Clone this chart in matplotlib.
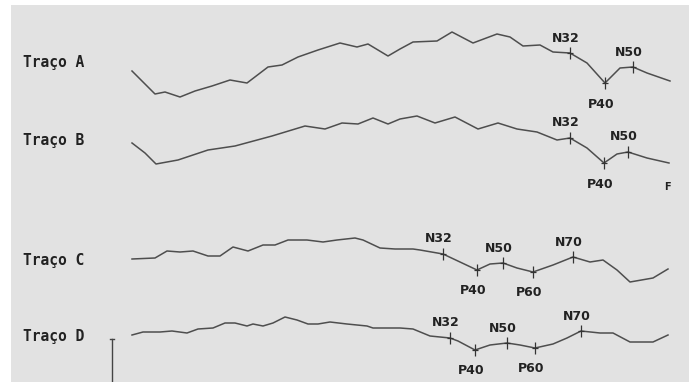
import matplotlib.pyplot as plt
from matplotlib.patches import Rectangle

# traces (horizontal position, vertical position; y grows downward)
x_a = [132, 155, 165, 180, 195, 212, 230, 247, 268, 282, 298, 318, 340, 357, 368, 388, 400,
       413, 437, 452, 473, 497, 510, 523, 540, 553, 570, 587, 605, 620, 633, 647, 670]
y_a = [71, 94, 92, 97, 91, 86, 80, 83, 67, 65, 57, 50, 43, 47, 44, 56, 49,
       42, 41, 32, 43, 34, 37, 46, 45, 52, 53, 63, 83, 68, 67, 73, 81]

x_b = [132, 145, 156, 178, 208, 235, 272, 305, 325, 342, 358, 373, 388, 400, 417, 435, 455,
       478, 498, 517, 537, 557, 570, 587, 604, 617, 628, 647, 669]
y_b = [143, 153, 164, 160, 150, 146, 136, 126, 129, 123, 124, 118, 124, 119, 116, 123, 117,
       129, 123, 129, 132, 140, 138, 148, 163, 154, 152, 158, 163]

x_c = [132, 155, 167, 180, 193, 208, 220, 233, 248, 263, 275, 288, 307, 323, 337, 355, 363, 380,
       395, 413, 420, 443, 460, 477, 490, 503, 517, 533, 553, 573, 590, 603, 617, 630, 653, 668]
y_c = [259, 258, 251, 252, 251, 256, 256, 247, 251, 245, 245, 240, 240, 242, 240, 238, 240, 248,
       249, 249, 250, 254, 262, 270, 264, 263, 268, 272, 265, 257, 262, 260, 270, 282, 278, 269]

x_d = [132, 143, 160, 172, 187, 198, 213, 225, 235, 247, 253, 263, 273, 285, 297, 308, 318, 330,
       347, 367, 373, 400, 413, 430, 450, 458, 475, 490, 507, 520, 535, 553, 567, 581, 600, 613,
       630, 653, 668]
y_d = [335, 332, 332, 331, 333, 329, 328, 323, 323, 326, 324, 326, 323, 317, 320, 324, 324, 322,
       324, 326, 328, 328, 329, 336, 338, 341, 350, 345, 343, 345, 348, 344, 338, 331, 333, 333,
       342, 342, 335]

trace_names = ['Traço A', 'Traço B', 'Traço C', 'Traço D']
label_y = [62, 140, 260, 336]

# picos marcados: nome e posição horizontal (que coincide com um ponto do traço)
peaks_a = (['N32', 'P40', 'N50'], [570, 605, 633])
peaks_b = (['N32', 'P40', 'N50'], [570, 604, 628])
peaks_c = (['N32', 'P40', 'N50', 'P60', 'N70'], [443, 477, 503, 533, 573])
peaks_d = (['N32', 'P40', 'N50', 'P60', 'N70'], [450, 475, 507, 535, 581])

traces = [(x_a, y_a, peaks_a), (x_b, y_b, peaks_b), (x_c, y_c, peaks_c), (x_d, y_d, peaks_d)]

fig = plt.figure(figsize=(6.94, 3.82), dpi=100)
ax = fig.add_axes([0, 0, 1, 1])
ax.set_xlim(0, 694)
ax.set_ylim(382, 0)
ax.axis('off')

# fundo cinza da imagem digitalizada
ax.add_patch(Rectangle((11, 5), 678, 377, facecolor='#e2e2e2', edgecolor='none', zorder=0))

line_col = '#4e4e4e'
for (xs, ys, (names, px)), name, ly in zip(traces, trace_names, label_y):
    ax.plot(xs, ys, color=line_col, lw=1.1, solid_joinstyle='round', zorder=2)
    ax.text(23, ly, name, family='DejaVu Sans Mono', fontweight='bold', fontsize=10.5,
            color='#222222', va='center', ha='left')
    for nm, xp in zip(names, px):
        yp = ys[xs.index(xp)]
        ax.plot([xp], [yp], marker='|', ms=9, mew=0.9, color='#333333', zorder=3)
        ax.plot([xp], [yp], marker='_', ms=5, mew=0.9, color='#333333', zorder=3)
        if nm.startswith('N'):
            ax.text(xp - 4, yp - 15, nm, ha='center', va='center', fontsize=9,
                    fontweight='bold', color='#222222')
        else:
            ax.text(xp - 4, yp + 21, nm, ha='center', va='center', fontsize=9,
                    fontweight='bold', color='#222222')

# barra de escala
ax.plot([112, 112], [339, 382], color='#444444', lw=1.0)
ax.plot([110, 114], [339, 339], color='#444444', lw=1.0)
ax.text(667, 187, 'F', fontsize=7, fontweight='bold', color='#222222', ha='center', va='center')

fig.savefig('out.png', dpi=100, facecolor='white')
